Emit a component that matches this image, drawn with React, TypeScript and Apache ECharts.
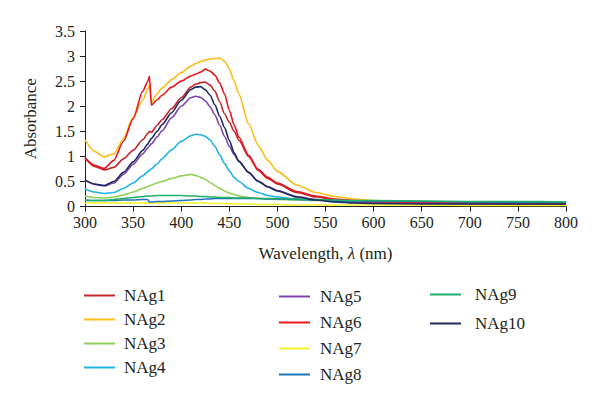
import React, { useEffect, useRef } from "react";
import * as echarts from "echarts";

const wavelengths = [300,310,320,330,340,350,360,365,367,369,375,380,390,400,410,415,420,425,430,435,440,445,450,455,460,470,480,490,500,520,540,560,580,600,650,700,750,800];

const nag1 = [0.97,0.80,0.73,0.78,0.95,1.12,1.33,1.45,1.50,1.48,1.62,1.73,1.95,2.17,2.38,2.44,2.47,2.48,2.42,2.30,2.09,1.85,1.68,1.50,1.32,1.00,0.72,0.56,0.45,0.28,0.19,0.13,0.10,0.09,0.07,0.06,0.05,0.05];
const nag2 = [1.33,1.10,0.99,1.05,1.35,1.78,2.12,2.33,2.42,2.08,2.25,2.36,2.53,2.67,2.80,2.85,2.89,2.92,2.94,2.95,2.96,2.90,2.75,2.50,2.24,1.65,1.22,0.92,0.70,0.43,0.28,0.20,0.15,0.12,0.09,0.07,0.06,0.06];
const nag3 = [0.21,0.18,0.17,0.19,0.23,0.29,0.36,0.40,0.41,0.43,0.47,0.50,0.56,0.61,0.64,0.62,0.58,0.54,0.48,0.42,0.36,0.31,0.27,0.24,0.21,0.18,0.16,0.15,0.14,0.13,0.12,0.11,0.10,0.10,0.09,0.08,0.08,0.08];
const nag4 = [0.35,0.29,0.26,0.28,0.36,0.47,0.61,0.69,0.72,0.75,0.85,0.95,1.13,1.30,1.41,1.44,1.43,1.40,1.33,1.20,1.03,0.86,0.71,0.58,0.50,0.36,0.28,0.22,0.19,0.15,0.13,0.11,0.10,0.09,0.08,0.08,0.07,0.07];
const nag5 = [0.52,0.44,0.41,0.47,0.64,0.84,1.05,1.16,1.21,1.25,1.39,1.51,1.77,2.00,2.17,2.20,2.18,2.11,1.99,1.83,1.62,1.40,1.20,1.04,0.90,0.68,0.51,0.40,0.32,0.20,0.14,0.10,0.08,0.07,0.06,0.05,0.05,0.05];
const nag6 = [0.97,0.82,0.76,0.92,1.30,1.75,2.30,2.48,2.60,2.02,2.13,2.22,2.38,2.50,2.60,2.64,2.68,2.74,2.70,2.62,2.46,2.25,1.92,1.63,1.38,1.02,0.74,0.58,0.47,0.30,0.21,0.15,0.12,0.10,0.08,0.07,0.06,0.06];
const nag7 = [0.07,0.07,0.07,0.07,0.07,0.07,0.07,0.07,0.07,0.07,0.07,0.07,0.07,0.07,0.07,0.07,0.07,0.07,0.06,0.06,0.06,0.06,0.06,0.05,0.05,0.05,0.04,0.04,0.04,0.03,0.03,0.03,0.03,0.03,0.03,0.02,0.02,0.02];
const nag8 = [0.12,0.12,0.12,0.12,0.13,0.13,0.14,0.14,0.09,0.09,0.10,0.10,0.11,0.12,0.13,0.14,0.14,0.15,0.15,0.16,0.16,0.16,0.16,0.16,0.16,0.16,0.16,0.15,0.15,0.14,0.13,0.12,0.11,0.11,0.10,0.09,0.08,0.08];
const nag9 = [0.13,0.12,0.12,0.14,0.16,0.18,0.20,0.21,0.21,0.21,0.22,0.22,0.22,0.22,0.21,0.21,0.20,0.20,0.19,0.19,0.18,0.18,0.18,0.17,0.17,0.17,0.16,0.16,0.16,0.15,0.14,0.13,0.12,0.12,0.11,0.10,0.10,0.09];
const nag10 = [0.53,0.45,0.42,0.50,0.68,0.89,1.12,1.24,1.30,1.36,1.50,1.63,1.87,2.12,2.33,2.38,2.39,2.33,2.22,2.03,1.80,1.58,1.32,1.07,0.90,0.68,0.50,0.39,0.31,0.19,0.13,0.09,0.07,0.06,0.05,0.05,0.05,0.05];

const seriesNames = ["NAg1","NAg2","NAg3","NAg4","NAg5","NAg6","NAg7","NAg8","NAg9","NAg10"];
const seriesValues = [nag1,nag2,nag3,nag4,nag5,nag6,nag7,nag8,nag9,nag10];
const seriesColors = ["#c3262c","#fbbd1a","#92cf55","#21b3e6","#7d44b0","#e8171f","#f5f224","#1f74bc","#1eaf68","#1d2a5c"];

const legendCol1 = ["NAg1","NAg2","NAg3","NAg4"];
const legendCol2 = ["NAg5","NAg6","NAg7","NAg8"];
const legendCol3 = ["NAg9","NAg10"];

const FONT = "'Liberation Serif', 'DejaVu Serif', serif";

export default function App() {
  const ref = useRef<HTMLDivElement>(null);
  useEffect(() => {
    if (!ref.current) return;
    const chart = echarts.init(ref.current, null, { renderer: "svg" });
    const legendBase = (data: string[], left: number, top: number, gap: number, textPad: number) => ({
      data,
      orient: "vertical",
      left,
      top,
      padding: 0,
      itemGap: gap,
      itemWidth: 31,
      itemHeight: 2,
      icon: "rect",
      textStyle: {
        fontFamily: FONT,
        fontSize: 17,
        color: "#231f20",
        lineHeight: 17,
        padding: [0, 0, 0, textPad],
      },
    });
    chart.setOption({
      animation: false,
      backgroundColor: "#ffffff",
      grid: { left: 85, right: 34, top: 31, bottom: 198.5, containLabel: false },
      xAxis: {
        type: "value",
        min: 300,
        max: 800,
        interval: 50,
        name: "Wavelength, {i|λ} (nm)",
        nameLocation: "middle",
        nameGap: 38,
        nameTextStyle: {
          fontFamily: FONT,
          fontSize: 17,
          color: "#231f20",
          rich: { i: { fontFamily: FONT, fontSize: 17, fontStyle: "italic", color: "#231f20" } },
        },
        axisLine: { show: true, lineStyle: { color: "#231f20", width: 1 } },
        axisTick: { show: true, length: 5, lineStyle: { color: "#231f20" } },
        axisLabel: { fontFamily: FONT, fontSize: 16, color: "#231f20", margin: 8 },
        splitLine: { show: false },
      },
      yAxis: {
        type: "value",
        min: 0,
        max: 3.5,
        interval: 0.5,
        name: "Absorbance",
        nameLocation: "middle",
        nameGap: 46,
        nameTextStyle: { fontFamily: FONT, fontSize: 17, color: "#231f20" },
        axisLine: { show: true, lineStyle: { color: "#231f20", width: 1 } },
        axisTick: { show: true, length: 5, lineStyle: { color: "#231f20" } },
        axisLabel: { fontFamily: FONT, fontSize: 16, color: "#231f20", margin: 10 },
        splitLine: { show: false },
      },
      legend: [
        legendBase(legendCol1, 84, 287, 7, 4),
        legendBase(legendCol2, 279, 288, 9, 5),
        legendBase(legendCol3, 430, 286, 12, 9),
      ],
      series: seriesNames.map((name, k) => ({
        name,
        type: "line",
        showSymbol: false,
        symbol: "none",
        smooth: 0.25,
        smoothMonotone: "x",
        color: seriesColors[k],
        lineStyle: { width: 1.6, color: seriesColors[k] },
        data: wavelengths.map((w, i) => [w, seriesValues[k][i]]),
        z: 2,
      })),
    });
    return () => chart.dispose();
  }, []);
  return <div ref={ref} style={{ width: 600, height: 405, position: "absolute", left: 0, top: 0 }} />;
}
